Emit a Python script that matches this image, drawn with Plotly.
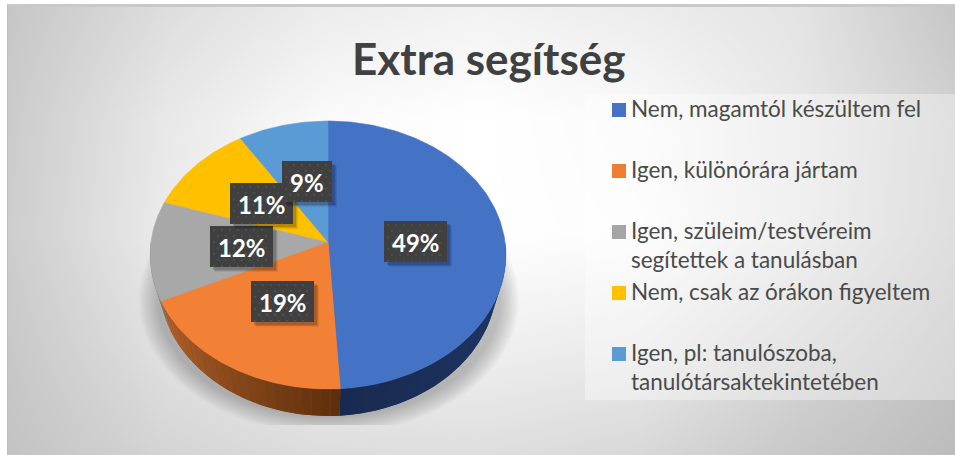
import math

import plotly.graph_objects as go

# Chart data
title = "Extra segítség"
categories = [
    "Nem, magamtól készültem fel",
    "Igen, különórára jártam",
    "Igen, szüleim/testvéreim<br>segítettek a tanulásban",
    "Nem, csak az órákon figyeltem",
    "Igen, pl: tanulószoba,<br>tanulótársaktekintetében",
]
values = [49, 19, 12, 11, 9]

# Styling
colors = ["#4472C4", "#F28136", "#A8A8A8", "#FFC000", "#5B9BD5"]
swatch_colors = ["#4472C4", "#ED7D31", "#A5A5A5", "#FFC000", "#5B9BD5"]
wall_colors = [("#21396A", "#192A50"), ("#5C2E0C", "#B5632A"), ("#6E6E6E", "#8E8E8E"), None, None]
label_boxes = [(384, 221), (251, 281), (210, 226), (230, 183), (282, 161)]
label_widths = [63, 63, 63, 63, 50]
legend_y = [103, 164, 225, 286, 347]
FONT = "Lato"

# Background gradient, gray levels
bg_x = [7, 165, 323, 481, 639, 797, 955]
bg_y = [7, 119, 231, 343, 455]
bg_gray = [
    [198, 221, 236, 242, 236, 228, 198],
    [203, 232, 250, 255, 250, 232, 208],
    [205, 235, 252, 255, 252, 232, 205],
    [200, 225, 238, 240, 235, 215, 195],
    [195, 212, 221, 222, 216, 200, 188],
]

# Tilted pie geometry (pixels)
CX, CY = 328, 242
RX, RY, PERSP = 177, 132.7, 0.097
DEPTH = 27
BASE_SCALE = 0.95  # the lower rim is a bit narrower than the top one
SHADOW_FLOOR = 425


def project(deg):
    """Clockwise angle from 12 o'clock to a point on the tilted rim."""
    u, v = math.sin(math.radians(deg)), math.cos(math.radians(deg))
    d = 1 + PERSP * v
    return CX + RX * u / d, CY - RY * v / d


def arc(a0, a1, step=1.0):
    n = max(2, int(abs(a1 - a0) / step))
    return [project(a0 + (a1 - a0) * i / n) for i in range(n + 1)]


def mix(c0, c1, t):
    a = [int(c0[i:i + 2], 16) for i in (1, 3, 5)]
    b = [int(c1[i:i + 2], 16) for i in (1, 3, 5)]
    return "rgb(%d,%d,%d)" % tuple(round(p + (q - p) * t) for p, q in zip(a, b))


def polygon(points, fill, line=None):
    return go.Scatter(
        x=[p[0] for p in points], y=[p[1] for p in points],
        mode="lines", fill="toself", fillcolor=fill,
        line=dict(color=line or fill, width=0.6 if line else 0),
        hoverinfo="skip", showlegend=False,
    )


fig = go.Figure()

fig.add_trace(go.Heatmap(
    x=bg_x, y=bg_y, z=bg_gray, zmin=0, zmax=255, zsmooth="best",
    colorscale=[[0, "#000000"], [1, "#FFFFFF"]], showscale=False, hoverinfo="skip",
))

# Soft shadow on the floor, cut flat at the bottom
for k in range(10):
    rx, ry = 190 - k * 2, 134 - k * 1.8
    fig.add_trace(polygon(
        [(329 + rx * math.cos(math.radians(t)),
          min(SHADOW_FLOOR, 300 + ry * math.sin(math.radians(t))))
         for t in range(0, 361, 2)],
        "rgba(0,0,0,0.023)",
    ))

# Slice boundaries from the values
edges = [0]
for v in values:
    edges.append(edges[-1] + v * 3.6)

# Side wall of the front slices
WALL_FROM, WALL_TO = 90, 270
for i, pair in enumerate(wall_colors):
    if pair is None:
        continue
    a0, a1 = max(edges[i], WALL_FROM), min(edges[i + 1], WALL_TO)
    # one solid base first, so the colour bands on top leave no seams
    base_top = arc(a0, a1)
    base_low = [(CX + (x - CX) * BASE_SCALE, y + DEPTH) for x, y in reversed(base_top)]
    fig.add_trace(polygon(base_top + base_low + base_top[:1], mix(pair[0], pair[1], 0.5)))
    for s in range(24):
        b0 = a0 + (a1 - a0) * s / 24
        b1 = a0 + (a1 - a0) * (s + 1) / 24
        top = arc(b0, b1)
        low = [(CX + (x - CX) * BASE_SCALE, y + DEPTH) for x, y in reversed(top)]
        c = mix(pair[0], pair[1], (s + 0.5) / 24)
        fig.add_trace(polygon(top + low + top[:1], c))

# Top face
for i, name in enumerate(categories):
    pts = [(CX, CY)] + arc(edges[i], edges[i + 1]) + [(CX, CY)]
    fig.add_trace(polygon(pts, colors[i], colors[i]))

# Data labels, in slice order so 9% sits on 11%
annotations = []
LABEL_H = 41
for i in range(len(values)):
    x0, y0 = label_boxes[i]
    w = label_widths[i]
    for off, alpha in ((5, 0.07), (4, 0.10), (3, 0.14)):
        fig.add_trace(polygon(
            [(x0 + off, y0 + off), (x0 + w + off, y0 + off),
             (x0 + w + off, y0 + LABEL_H + off), (x0 + off, y0 + LABEL_H + off), (x0 + off, y0 + off)],
            "rgba(0,0,0,%.2f)" % alpha,
        ))
    fig.add_trace(polygon(
        [(x0, y0), (x0 + w, y0), (x0 + w, y0 + LABEL_H), (x0, y0 + LABEL_H), (x0, y0)],
        "#404040",
    ))
    # dotted texture of the label box
    dots = [(x0 + 4 + col * 8 + (row % 2) * 4, y0 + 4 + row * 6)
            for row in range(7) for col in range(w // 8)
            if x0 + 4 + col * 8 + (row % 2) * 4 < x0 + w - 1]
    fig.add_trace(go.Scatter(
        x=[d[0] for d in dots], y=[d[1] for d in dots], mode="markers",
        marker=dict(color="#4E4E4E", size=2.5, line=dict(width=0)),
        hoverinfo="skip", showlegend=False,
    ))
    annotations.append(dict(
        x=x0 + w / 2, y=y0 + LABEL_H / 2 + 1, text="<b>%d%%</b>" % values[i],
        showarrow=False, font=dict(family=FONT, size=24, color="#FFFFFF"),
    ))

# Legend
for i, name in enumerate(categories):
    annotations.append(dict(
        x=629, y=legend_y[i] - 10, text=name, showarrow=False, xanchor="left", yanchor="top",
        align="left", font=dict(family=FONT, size=22.5, color="#4A4A4A"),
    ))

annotations.append(dict(
    x=488, y=58, text="<b>%s</b>" % title, showarrow=False,
    font=dict(family=FONT, size=44, color="#404040"),
))

shapes = [
    # translucent legend panel
    dict(type="rect", x0=585, x1=955, y0=94, y1=400, fillcolor="rgba(255,255,255,0.35)",
         line_width=0, layer="above"),
    # white page margin and frame lines
    dict(type="rect", x0=0, x1=7, y0=0, y1=455, fillcolor="#FFFFFF", line_width=0, layer="above"),
    dict(type="rect", x0=0, x1=955, y0=0, y1=4, fillcolor="#FFFFFF", line_width=0, layer="above"),
    dict(type="rect", x0=7, x1=955, y0=4, y1=7, fillcolor="#C9C9C9", line_width=0, layer="above"),
    dict(type="rect", x0=7, x1=8, y0=4, y1=455, fillcolor="#BDBDBD", line_width=0, layer="above"),
]
for i, y0 in enumerate(legend_y):
    shapes.append(dict(type="rect", x0=612, x1=626, y0=y0, y1=y0 + 14,
                       fillcolor=swatch_colors[i], line_width=0, layer="above"))

fig.update_layout(
    width=955, height=455,
    margin=dict(l=0, r=0, t=0, b=0),
    paper_bgcolor="#FFFFFF", plot_bgcolor="#FFFFFF",
    showlegend=False,
    shapes=shapes, annotations=annotations,
    xaxis=dict(range=[0, 955], visible=False, fixedrange=True),
    yaxis=dict(range=[455, 0], visible=False, fixedrange=True),
)

fig.write_html("out.html", post_script="document.body.style.margin='0';", config=dict(displayModeBar=False))
